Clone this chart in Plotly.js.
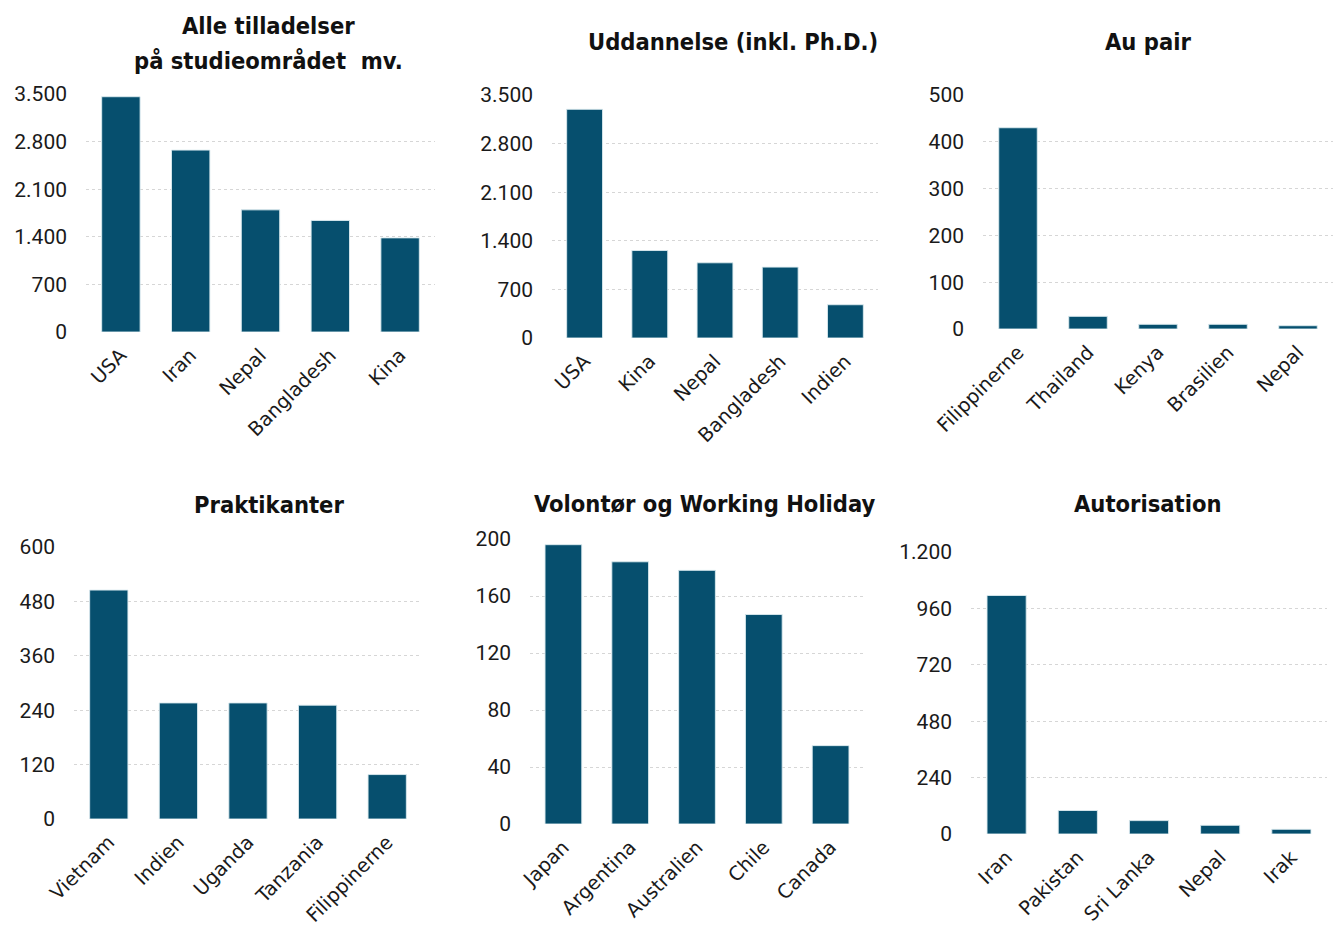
<!DOCTYPE html>
<html>
<head>
<meta charset="utf-8">
<script src="https://cdn.plot.ly/plotly-3.0.1.min.js"></script>
<style>html,body{margin:0;padding:0;background:#fff}#chart{width:1335px;height:926px}</style>
</head>
<body>
<div id="chart"></div>
<script>
// Data
const titles = ["Alle tilladelser", "på studieområdet\u00a0 mv.", "Uddannelse (inkl. Ph.D.)", "Au pair", "Praktikanter", "Volontør og Working Holiday", "Autorisation"];

const catAlle = ["USA", "Iran", "Nepal", "Bangladesh", "Kina"];
const valAlle = [3460, 2675, 1796, 1640, 1384];

const catUdd = ["USA", "Kina", "Nepal", "Bangladesh", "Indien"];
const valUdd = [3294, 1260, 1083, 1021, 479];

const catAu = ["Filippinerne", "Thailand", "Kenya", "Brasilien", "Nepal"];
const valAu = [430, 27, 10, 10, 7];

const catPrak = ["Vietnam", "Indien", "Uganda", "Tanzania", "Filippinerne"];
const valPrak = [505, 256, 256, 251, 98];

const catVol = ["Japan", "Argentina", "Australien", "Chile", "Canada"];
const valVol = [196, 184, 178, 147, 55];

const catAut = ["Iran", "Pakistan", "Sri Lanka", "Nepal", "Irak"];
const valAut = [1015, 100, 57, 37, 20];

const yMax = [3500, 3500, 500, 600, 200, 1200];
const yStep = [700, 700, 100, 120, 40, 240];

const W = 1335, H = 926;
const barColor = "#064f6e";
const cats = [catAlle, catUdd, catAu, catPrak, catVol, catAut];
const vals = [valAlle, valUdd, valAu, valPrak, valVol, valAut];

// plot areas in px [x0, x1, yTop, yBottom]
const boxes = [
  [86, 435, 94, 332],
  [552, 878, 95, 338],
  [983, 1333, 95, 329],
  [74, 422, 547, 819],
  [530, 864, 539, 824],
  [971, 1327, 552, 834]
];

const data = [];
const layout = {
  width: W, height: H,
  margin: {l: 0, r: 0, t: 0, b: 0},
  paper_bgcolor: "#fff", plot_bgcolor: "#fff",
  showlegend: false,
  separators: ",.",
  bargap: 0.45,
  font: {family: "Roboto, sans-serif", color: "#1a1a1a"},
  annotations: []
};

for (let i = 0; i < 6; i++) {
  const s = i === 0 ? "" : String(i + 1);
  data.push({
    type: "bar", x: cats[i], y: vals[i],
    xaxis: "x" + s, yaxis: "y" + s,
    marker: {color: barColor, line: {color: "rgba(220,235,240,0.9)", width: 1}},
    hoverinfo: "x+y"
  });
  const b = boxes[i];
  layout["xaxis" + s] = {
    domain: [b[0] / W, b[1] / W],
    anchor: "y" + s,
    type: "category",
    tickangle: -45,
    showgrid: false, zeroline: false, showline: false,
    ticks: "", ticklabelstandoff: 7,
    tickfont: {family: "DejaVu Sans, Verdana, sans-serif", size: 19.5, color: "#1a1a1a"}
  };
  const tv = [];
  for (let v = 0; v <= yMax[i]; v += yStep[i]) tv.push(v);
  layout["yaxis" + s] = {
    domain: [1 - b[3] / H, 1 - b[2] / H],
    anchor: "x" + s,
    range: [0, yMax[i]],
    tickvals: tv,
    separatethousands: true,
    tickformat: ",d",
    showgrid: true, gridcolor: "#d6d6d6", griddash: "dot", gridwidth: 1,
    zeroline: false, showline: false, ticks: "",
    ticklabelstandoff: 18,
    tickfont: {family: "Roboto, sans-serif", size: 21, color: "#1a1a1a"}
  };
}

const titlePos = [[268, 26], [268, 61], [733, 42], [1148, 42], [269, 505], [705, 504], [1148, 504]];
titles.forEach((t, k) => {
  layout.annotations.push({
    text: "<b>" + t + "</b>", xref: "paper", yref: "paper",
    x: titlePos[k][0] / W, y: 1 - titlePos[k][1] / H,
    xanchor: "center", yanchor: "middle", showarrow: false,
    font: {family: "DejaVu Sans Condensed, Roboto, sans-serif", size: 23.5, color: "#111"}
  });
});

Plotly.newPlot("chart", data, layout, {displayModeBar: false, staticPlot: true});
</script>
</body>
</html>
